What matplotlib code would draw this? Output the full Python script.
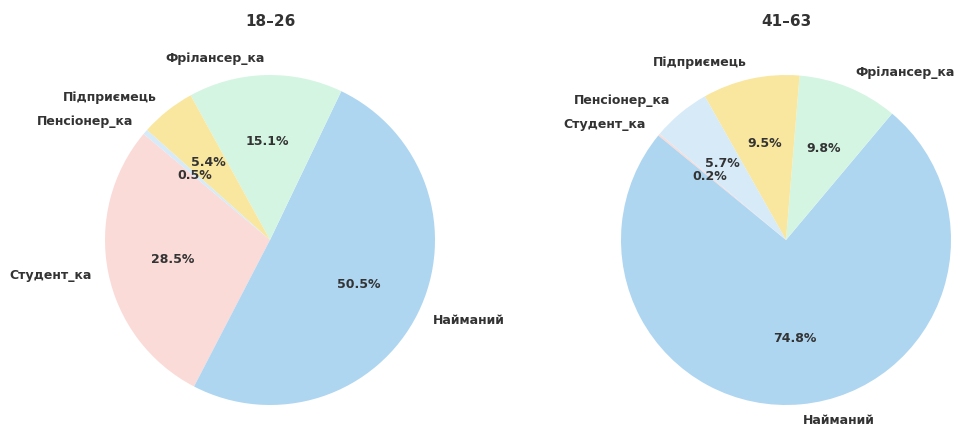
import matplotlib
matplotlib.use("Agg")
import matplotlib.pyplot as plt

# order as in the source data
categories = ["Студент_ка", "Найманий", "Фрілансер_ка", "Підприємець", "Пенсіонер_ка"]
young = [28.5, 50.5, 15.1, 5.4, 0.5]     # 18–26
older = [0.2, 74.8, 9.8, 9.5, 5.7]       # 41–63
titles = ["18–26", "41–63"]

colors = {"Студент_ка": "#FADBD8", "Найманий": "#AED6F1", "Фрілансер_ка": "#D5F5E3",
          "Підприємець": "#F9E79F", "Пенсіонер_ка": "#D6EAF8"}
txt = "#333333"

fig = plt.figure(figsize=(9.55, 4.26), dpi=100)

W, H = 955, 426
side = 412.5
centers = [(270, 186), (786, 186)]
title_x = [270, 786]

for i, vals in enumerate([young, older]):
    cx, cy = centers[i]
    ax = fig.add_axes([(cx - side / 2) / W, (cy - side / 2) / H, side / W, side / H])
    wedges, labels, pcts = ax.pie(vals, labels=categories, colors=[colors[c] for c in categories],
                                  autopct="%1.1f%%", startangle=140, pctdistance=0.6,
                                  labeldistance=1.1,
                                  textprops=dict(color=txt, fontsize=9, fontweight="bold"))
    ax.set_xlim(-1.25, 1.25)
    ax.set_ylim(-1.25, 1.25)
    ax.set_aspect("equal")
    fig.text(title_x[i] / W, 1 - 22 / H, titles[i], ha="center", va="center",
             fontsize=11, fontweight="bold", color=txt)

fig.savefig("out.png", dpi=100)
